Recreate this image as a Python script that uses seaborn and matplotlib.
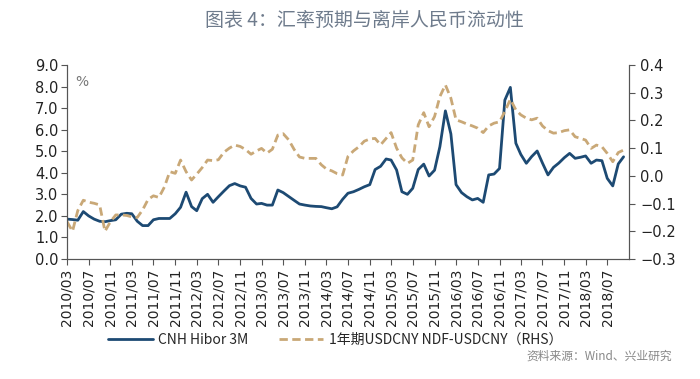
import pandas as pd
import seaborn as sns
import matplotlib.pyplot as plt

# monthly data, 2010/03 - 2018/10
hibor = [1.85, 1.83, 1.80, 2.20, 2.00, 1.85, 1.75, 1.73, 1.78, 1.82,
         2.08, 2.12, 2.10, 1.75, 1.55, 1.55, 1.82, 1.88, 1.88, 1.88,
         2.10, 2.40, 3.10, 2.43, 2.24, 2.80, 3.00, 2.63, 2.89, 3.15,
         3.40, 3.50, 3.39, 3.33, 2.81, 2.55, 2.58, 2.50, 2.50, 3.20,
         3.08, 2.90, 2.72, 2.55, 2.50, 2.46, 2.44, 2.43, 2.38, 2.33,
         2.42, 2.77, 3.05, 3.12, 3.23, 3.35, 3.45, 4.15, 4.30, 4.64,
         4.59, 4.13, 3.12, 3.00, 3.28, 4.15, 4.40, 3.85, 4.12, 5.21,
         6.87, 5.80, 3.45, 3.08, 2.89, 2.74, 2.81, 2.63, 3.90, 3.94,
         4.20, 7.37, 7.96, 5.37, 4.85, 4.44, 4.75, 5.01, 4.45, 3.90,
         4.25, 4.45, 4.70, 4.90, 4.67, 4.72, 4.78, 4.44, 4.59, 4.56,
         3.74, 3.39, 4.41, 4.74]
ndf = [-0.165, -0.200, -0.125, -0.088, -0.095, -0.099, -0.105, -0.200, -0.165, -0.141,
       -0.141, -0.143, -0.148, -0.150, -0.123, -0.085, -0.072, -0.078, -0.040, 0.015,
       0.009, 0.057, 0.015, -0.015, 0.006, 0.030, 0.057, 0.055, 0.058, 0.085,
       0.100, 0.111, 0.106, 0.095, 0.078, 0.090, 0.099, 0.082, 0.096, 0.147,
       0.152, 0.130, 0.095, 0.068, 0.063, 0.063, 0.063, 0.040, 0.025, 0.018,
       0.008, 0.003, 0.070, 0.090, 0.105, 0.125, 0.133, 0.135, 0.112, 0.135,
       0.156, 0.100, 0.065, 0.045, 0.057, 0.184, 0.228, 0.177, 0.214, 0.286,
       0.328, 0.280, 0.202, 0.195, 0.187, 0.180, 0.172, 0.156, 0.180, 0.190,
       0.195, 0.232, 0.276, 0.238, 0.220, 0.208, 0.202, 0.208, 0.180, 0.163,
       0.154, 0.156, 0.163, 0.166, 0.141, 0.135, 0.129, 0.099, 0.111, 0.105,
       0.081, 0.051, 0.084, 0.093]
dates = pd.date_range('2010-03-01', periods=len(hibor), freq='MS')
tick_dates = pd.date_range('2010-03-01', '2018-07-01', freq='4MS')

df = pd.DataFrame({'date': dates, 'hibor': hibor, 'ndf': ndf})

sns.set_style('white')
plt.rcParams['font.family'] = ['DejaVu Sans', 'Noto Sans CJK SC']
cjk = ['Noto Sans CJK SC', 'DejaVu Sans']
blue = '#1d4a73'
tan = '#c9a877'
grey = '#555555'

fig = plt.figure(figsize=(7, 3.79), dpi=100)
ax = fig.add_axes([0.0957, 0.3166, 0.803, 0.512])
ax2 = ax.twinx()

sns.lineplot(data=df, x='date', y='hibor', ax=ax, color=blue, linewidth=2,
             label='CNH Hibor 3M', legend=False)
sns.lineplot(data=df, x='date', y='ndf', ax=ax2, color=tan, linewidth=2,
             label='1年期USDCNY NDF-USDCNY（RHS）', legend=False)
ax2.lines[0].set_dashes((3, 1.6))

ax.set_ylim(0, 9)
ax.set_yticks(range(10))
ax.set_yticklabels([f'{v:.1f}' for v in range(10)], fontsize=10.5, color='#222222')
ax2.set_ylim(-0.3, 0.4)
r_ticks = [-0.3, -0.2, -0.1, 0.0, 0.1, 0.2, 0.3, 0.4]
ax2.set_yticks(r_ticks)
ax2.set_yticklabels([f'{v:.1f}'.replace('-', '−') for v in r_ticks], fontsize=10.5, color='#222222')

ax.set_xlim(pd.Timestamp('2010-03-01'), pd.Timestamp('2018-11-01'))
ax.set_xticks(tick_dates)
ax.set_xticklabels([d.strftime('%Y/%m') for d in tick_dates], rotation=90, fontsize=10,
                   color='#222222')
ax.set_xlabel('')
ax.set_ylabel('')
ax2.set_ylabel('')

for a in (ax, ax2):
    a.spines['top'].set_visible(False)
    for s in ('left', 'right', 'bottom'):
        a.spines[s].set_color(grey)
        a.spines[s].set_linewidth(0.8)
ax.tick_params(axis='y', left=True, length=4, width=0.8, color=grey, pad=2)
ax.tick_params(axis='x', bottom=True, length=4, width=0.8, color=grey, pad=3)
ax2.tick_params(axis='y', right=True, length=4, width=0.8, color=grey, pad=4)

ax.text(0.015, 0.95, '%', transform=ax.transAxes, fontsize=10, color='#777777', va='top')

fig.text(0.52, 0.945, '图表 4：汇率预期与离岸人民币流动性', ha='center', va='center',
         fontsize=13.7, color='#6e7b8c', family=cjk)

handles = ax.get_lines() + ax2.get_lines()
labels = [h.get_label() for h in handles]
leg = fig.legend(handles, labels, loc='center', bbox_to_anchor=(0.479, 0.103), ncol=2,
                 frameon=False, handlelength=3.2, handletextpad=0.4, columnspacing=2.2,
                 prop={'family': cjk, 'size': 10})

fig.text(0.96, 0.06, '资料来源：Wind、兴业研究', ha='right', va='center', fontsize=8.5,
         color='#888888', family=cjk)

fig.savefig('out.png', dpi=100)
